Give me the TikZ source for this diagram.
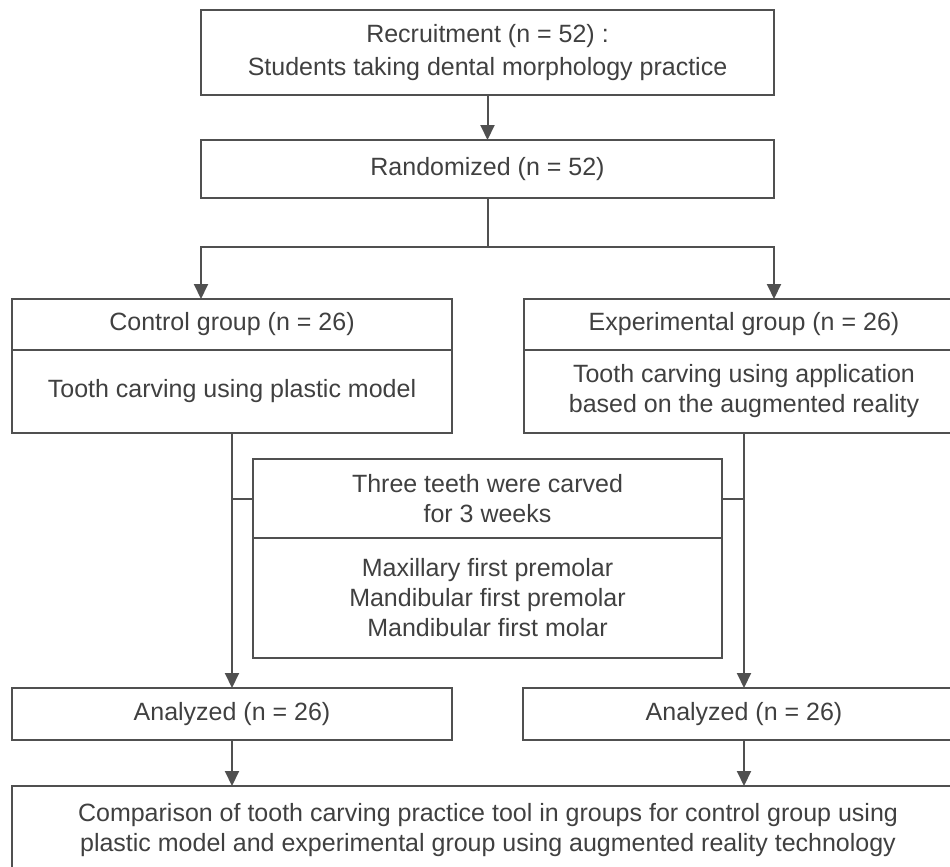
\documentclass[tikz,border=0pt]{standalone}
\usepackage{fontspec}
\setmainfont{Liberation Sans}
\usetikzlibrary{arrows.meta}
\definecolor{ln}{HTML}{505050}
\definecolor{tx}{HTML}{404040}
\begin{document}
\begin{tikzpicture}[x=1pt,y=-1pt,
  box/.style={draw=ln, line width=2pt, outer sep=0pt, inner sep=0pt, align=center, text=tx, font=\fontsize{25}{30}\selectfont},
  link/.style={draw=ln, line width=2pt},
  arr/.style={link, -{Triangle[width=14pt,length=15pt]}}]
\useasboundingbox (0,0) rectangle (950,867);
\clip (0,0) rectangle (950,867);
\node[box, minimum width=573pt, minimum height=85pt, font=\fontsize{25}{33}\selectfont] (rec) at (487.5,52.5) {Recruitment (n = 52) :\\Students taking dental morphology practice};
\node[box, minimum width=573pt, minimum height=58pt] (rand) at (487.5,169) {Randomized (n = 52)};
\coordinate (split) at (487.5,247);
\node[box, minimum width=440pt, minimum height=51pt] (ctrlh) at (232,324.5) {Control group (n = 26)};
\node[box, minimum width=440pt, minimum height=83pt] (ctrlb) at (232,391.5) {Tooth carving using plastic model};
\node[box, minimum width=440pt, minimum height=51pt] (exph) at (744,324.5) {Experimental group (n = 26)};
\node[box, minimum width=440pt, minimum height=83pt] (expb) at (744,391.5) {Tooth carving using application\\based on the augmented reality};
\node[box, minimum width=469pt, minimum height=79pt] (midh) at (487.5,498.5) {Three teeth were carved\\for 3 weeks};
\node[box, minimum width=469pt, minimum height=120pt] (midb) at (487.5,598) {Maxillary first premolar\\Mandibular first premolar\\Mandibular first molar};
\node[box, minimum width=440pt, minimum height=52pt] (an1) at (232,714) {Analyzed (n = 26)};
\node[box, minimum width=442pt, minimum height=52pt] (an2) at (744,714) {Analyzed (n = 26)};
\node[box, minimum width=952pt, minimum height=88pt] (cmp) at (488,830) {Comparison of tooth carving practice tool in groups for control group using\\plastic model and experimental group using augmented reality technology};
\draw[arr] (rec) -- (rand);
\draw[link] (rand.south) -- (split);
\draw[arr] (split) -| (ctrlh.north -| rand.west);
\draw[arr] (split) -| (exph.north -| rand.east);
\draw[arr] (ctrlb.south) -- (an1.north);
\draw[arr] (expb.south) -- (an2.north);
\draw[link] (midh.west) -- (midh.west -| ctrlb.south);
\draw[link] (midh.east) -- (midh.east -| expb.south);
\draw[arr] (an1.south) -- (an1.south |- cmp.north);
\draw[arr] (an2.south) -- (an2.south |- cmp.north);
\end{tikzpicture}
\end{document}
